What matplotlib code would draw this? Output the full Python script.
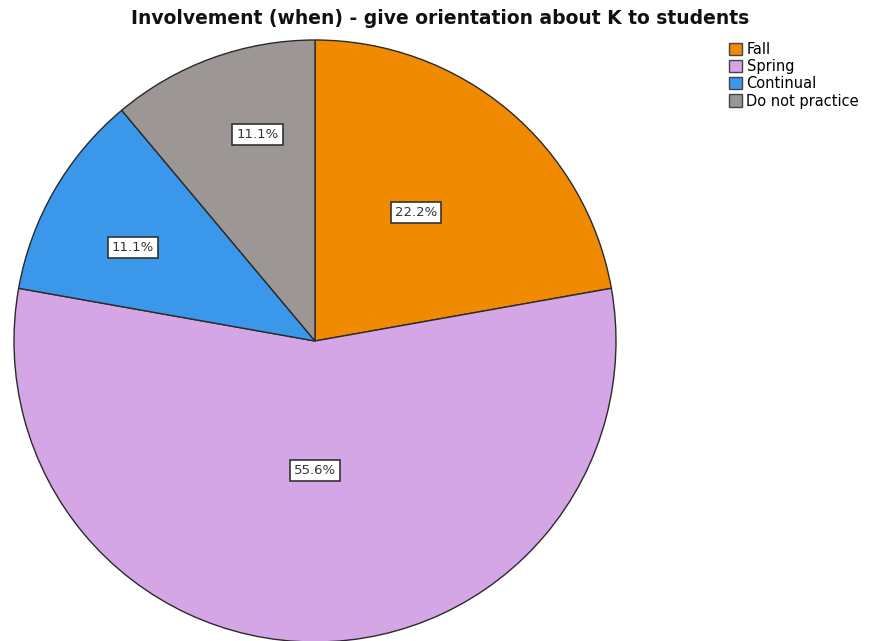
import numpy as np
import matplotlib.pyplot as plt
from matplotlib.patches import Patch

categories = ['Fall', 'Spring', 'Continual', 'Do not practice']
percents = [22.2, 55.6, 11.1, 11.1]
colors = ['#f08a00', '#d4a6e6', '#3b97ea', '#9c9695']
# where each percentage box sits: distance from centre (fraction of radius)
# and a small turn away from the wedge's middle angle (degrees)
label_r = [0.544, 0.43, 0.68, 0.711]
label_turn = [1.9, 0.0, 3.0, -4.4]

W, H = 881, 641
fig = plt.figure(figsize=(W / 100, H / 100), dpi=100)
cx, cy, r = 315, 341, 301   # pixels, cy measured from the top
ax = fig.add_axes([(cx - r) / W, (H - cy - r) / H, 2 * r / W, 2 * r / H])

wedges, _ = ax.pie(percents, colors=colors, startangle=90, counterclock=False,
                   radius=1, wedgeprops=dict(edgecolor='#2a2a2a', linewidth=1))
ax.set_xlim(-1, 1)
ax.set_ylim(-1, 1)
ax.set_aspect('equal')
ax.axis('off')

for w, p, d, t in zip(wedges, percents, label_r, label_turn):
    mid = np.deg2rad((w.theta1 + w.theta2) / 2 + t)
    ax.text(d * np.cos(mid), d * np.sin(mid), f'{p:.1f}%', ha='center', va='center',
            fontsize=9.5, color='#333333',
            bbox=dict(boxstyle='square,pad=0.3', fc='white', ec='#333333', lw=1.2))

fig.text(440 / W, 1 - 18 / H, 'Involvement (when) - give orientation about K to students',
         ha='center', va='center', fontsize=13.5, fontweight='bold', color='#111111')

handles = [Patch(facecolor=c, edgecolor='#444444', label=l) for c, l in zip(colors, categories)]
fig.legend(handles=handles, loc='upper left', bbox_to_anchor=(729 / W, 1 - 42 / H),
           frameon=False, fontsize=10.5, handlelength=0.9, handleheight=0.9,
           handletextpad=0.3, labelspacing=0.15, borderaxespad=0, borderpad=0)

fig.savefig('out.png', dpi=100)
